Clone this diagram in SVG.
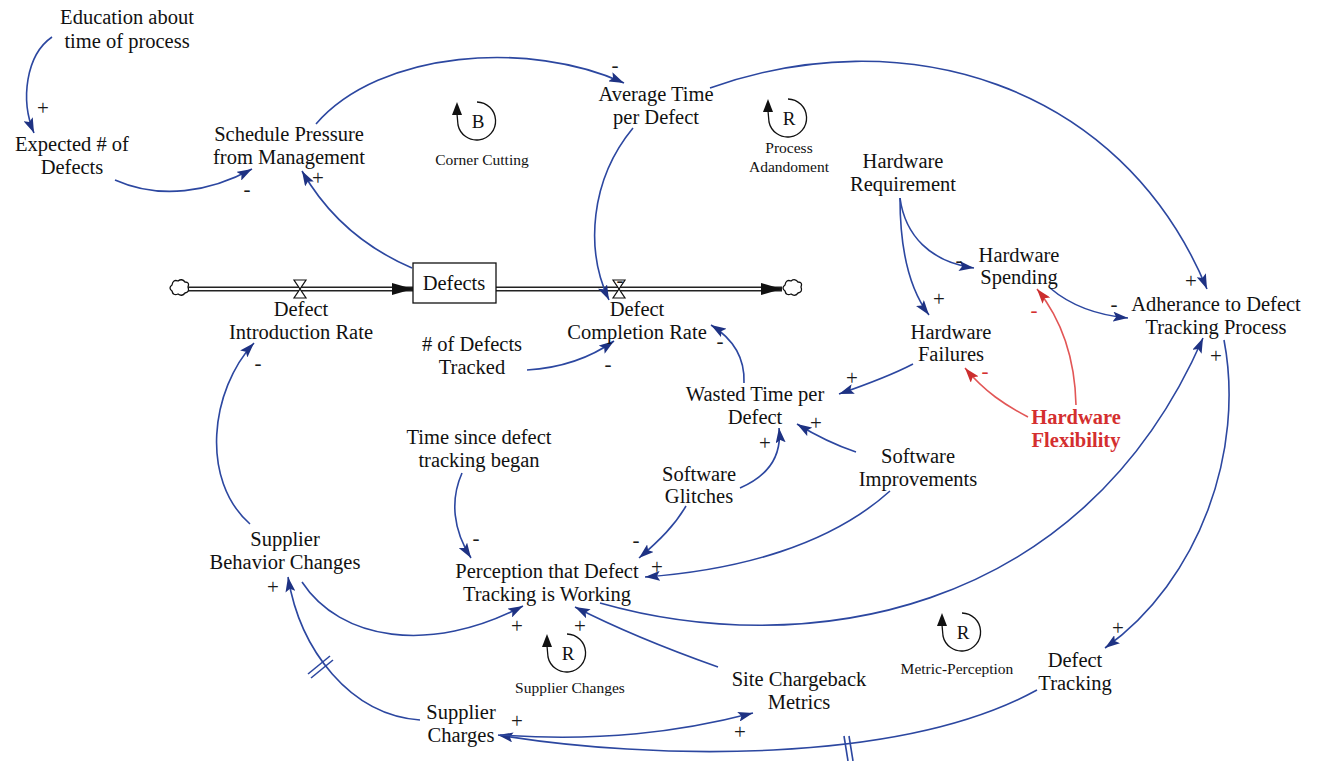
<svg xmlns="http://www.w3.org/2000/svg" width="1317" height="761" viewBox="0 0 1317 761">
<style>
text{font-family:"Liberation Serif","Times New Roman",serif;fill:#111;}
.n{font-size:20.5px;text-anchor:middle;}
.s{font-size:15.5px;text-anchor:middle;}
.p{font-size:21px;text-anchor:middle;fill:#1a1a1a;}
.red{fill:#d42f2f;font-weight:bold;}
.rs{fill:#d42f2f;}
.c{fill:none;stroke:#2c47a0;stroke-width:1.6;marker-end:url(#a);}
.cr{fill:none;stroke:#e25656;stroke-width:1.6;marker-end:url(#ar);}
.loop{fill:none;stroke:#111;stroke-width:1.3;}
.dl{stroke:#2c47a0;stroke-width:1.6;}
</style>
<defs>
<marker id="a" markerUnits="userSpaceOnUse" markerWidth="16" markerHeight="10" refX="15" refY="5" orient="auto"><path d="M0,0 L15,5 L0,10 L3,5 Z" fill="#1e3283"/></marker>
<marker id="ar" markerUnits="userSpaceOnUse" markerWidth="16" markerHeight="10" refX="15" refY="5" orient="auto"><path d="M0,0 L15,5 L0,10 L3,5 Z" fill="#cc2e2e"/></marker>
<marker id="la" markerUnits="userSpaceOnUse" markerWidth="10" markerHeight="13" refX="5" refY="12" orient="0"><path d="M0,13 L5,0 L10,13 Z" fill="#111"/></marker>
</defs>

<g id="flows">
<path d="M186,289 L413,289" stroke="#222" stroke-width="5" fill="none"/>
<path d="M186,289 L400,289" stroke="#fff" stroke-width="2" fill="none"/>
<path d="M392,283 L413,289 L392,295 Z" fill="#111"/>
<path d="M496,289 L782,289" stroke="#222" stroke-width="5" fill="none"/>
<path d="M496,289 L765,289" stroke="#fff" stroke-width="2" fill="none"/>
<path d="M761,283 L782,289 L761,295 Z" fill="#111"/>
<path d="M172,285 q1,-6 6,-4 q4,-3 7,1 q5,0 3,5 q2,5 -3,6 q-3,4 -7,1 q-5,2 -6,-3 q-4,-3 0,-6 Z" fill="#fff" stroke="#111" stroke-width="1.3"/>
<path d="M785,285 q1,-6 6,-4 q4,-3 7,1 q5,0 3,5 q2,5 -3,6 q-3,4 -7,1 q-5,2 -6,-3 q-4,-3 0,-6 Z" fill="#fff" stroke="#111" stroke-width="1.3"/>
<path d="M294,280 L306,280 L294,298 L306,298 Z" fill="#fff" stroke="#111" stroke-width="1.2"/>
<path d="M613,280 L625,280 L613,298 L625,298 Z" fill="#fff" stroke="#111" stroke-width="1.2"/>
</g>

<g id="connectors">
<path class="c" d="M52,37 C26,55 20,100 34,133"/>
<path class="c" d="M115,180 C160,200 210,192 252,169"/>
<path class="c" d="M412,268 C370,250 330,220 302,171"/>
<path class="c" d="M316,124 C380,50 530,40 624,83"/>
<path class="c" d="M710,88 C900,20 1120,80 1207,289"/>
<path class="c" d="M633,128 C590,180 585,250 609,300"/>
<path class="c" d="M900,198 C905,235 930,262 974,268"/>
<path class="c" d="M900,198 C900,250 910,290 929,315"/>
<path class="c" d="M1050,288 C1070,305 1095,315 1128,318"/>
<path class="cr" d="M1076,405 C1075,360 1062,320 1037,289"/>
<path class="cr" d="M1028,417 C1005,405 985,392 965,368"/>
<path class="c" d="M913,364 C890,376 865,385 839,394"/>
<path class="c" d="M744,383 C745,360 735,340 711,325"/>
<path class="c" d="M527,370 C560,368 590,358 614,341"/>
<path class="c" d="M740,488 C770,475 782,455 779,428"/>
<path class="c" d="M856,452 C835,445 815,435 797,424"/>
<path class="c" d="M686,506 C675,525 660,540 639,558"/>
<path class="c" d="M462,473 C450,500 453,530 471,558"/>
<path class="c" d="M890,491 C830,545 740,570 645,577"/>
<path class="c" d="M600,603 C800,660 1080,620 1203,338"/>
<path class="c" d="M1224,340 C1245,450 1200,580 1105,648"/>
<path class="c" d="M1037,690 C900,765 650,760 498,735"/>
<path class="c" d="M500,735 C600,742 680,732 753,713"/>
<path class="c" d="M718,667 C670,650 620,630 575,607"/>
<path class="c" d="M420,720 C350,715 300,650 288,577"/>
<path class="c" d="M302,582 C340,640 430,655 523,606"/>
<path class="c" d="M250,524 C200,480 210,390 254,343"/>
<line class="dl" x1="308" y1="674" x2="330" y2="656"/>
<line class="dl" x1="311" y1="678" x2="333" y2="660"/>
<line class="dl" x1="844" y1="736" x2="848" y2="761"/>
<line class="dl" x1="849" y1="736" x2="853" y2="761"/>
</g>

<g id="polarity">
<text class="p" x="43" y="115">+</text>
<text class="p" x="247" y="196">-</text>
<text class="p" x="318" y="185">+</text>
<text class="p" x="615" y="72">-</text>
<text class="p" x="1191" y="288">+</text>
<text class="p" x="620" y="287">-</text>
<text class="p" x="959" y="267">-</text>
<text class="p" x="939" y="306">+</text>
<text class="p" x="1114" y="311">-</text>
<text class="p rs" x="1034" y="317">-</text>
<text class="p rs" x="985" y="378">-</text>
<text class="p" x="852" y="385">+</text>
<text class="p" x="720" y="348">-</text>
<text class="p" x="608" y="371">-</text>
<text class="p" x="765" y="450">+</text>
<text class="p" x="816" y="430">+</text>
<text class="p" x="636" y="547">-</text>
<text class="p" x="476" y="545">-</text>
<text class="p" x="657" y="574">+</text>
<text class="p" x="1216" y="363">+</text>
<text class="p" x="1118" y="635">+</text>
<text class="p" x="517" y="633">+</text>
<text class="p" x="580" y="633">+</text>
<text class="p" x="740" y="739">+</text>
<text class="p" x="517" y="728">+</text>
<text class="p" x="273" y="594">+</text>
<text class="p" x="258" y="370">-</text>
</g>

<g id="loops">
<g id="loop-b">
<path class="loop" d="M477,102 A19,19 0 1 1 458,125 L457,114" marker-end="url(#la)"/>
<text x="478" y="128" style="font-size:19px;text-anchor:middle">B</text>
<text class="s" x="482" y="165">Corner Cutting</text>
</g>
<g id="loop-r1">
<path class="loop" d="M788,99 A19,19 0 1 1 769,122 L768,111" marker-end="url(#la)"/>
<text x="789" y="125" style="font-size:19px;text-anchor:middle">R</text>
<text class="s" x="789" y="153">Process</text>
<text class="s" x="789" y="172">Adandoment</text>
</g>
<g id="loop-r2">
<path class="loop" d="M567,634 A19,19 0 1 1 548,657 L547,646" marker-end="url(#la)"/>
<text x="568" y="660" style="font-size:19px;text-anchor:middle">R</text>
<text class="s" x="570" y="693">Supplier Changes</text>
</g>
<g id="loop-r3">
<path class="loop" d="M962,613 A19,19 0 1 1 943,636 L942,625" marker-end="url(#la)"/>
<text x="963" y="639" style="font-size:19px;text-anchor:middle">R</text>
<text class="s" x="957" y="674">Metric-Perception</text>
</g>
</g>

<g id="n-education"><text class="n" x="127" y="24">Education about</text><text class="n" x="127" y="48">time of process</text></g>
<g id="n-expected"><text class="n" x="72" y="151">Expected # of</text><text class="n" x="72" y="174">Defects</text></g>
<g id="n-schedule"><text class="n" x="289" y="141">Schedule Pressure</text><text class="n" x="289" y="164">from Management</text></g>
<g id="n-avgtime"><text class="n" x="656" y="101">Average Time</text><text class="n" x="656" y="124">per Defect</text></g>
<g id="n-hwreq"><text class="n" x="903" y="168">Hardware</text><text class="n" x="903" y="191">Requirement</text></g>
<g id="n-hwspend"><text class="n" x="1019" y="262">Hardware</text><text class="n" x="1019" y="284">Spending</text></g>
<g id="n-adherance"><text class="n" x="1216" y="311">Adherance to Defect</text><text class="n" x="1216" y="334">Tracking Process</text></g>
<g id="n-hwfail"><text class="n" x="951" y="339">Hardware</text><text class="n" x="951" y="361">Failures</text></g>
<g id="n-hwflex"><text class="n red" x="1076" y="424">Hardware</text><text class="n red" x="1076" y="447">Flexibility</text></g>
<g id="n-defects"><rect x="413" y="263" width="83" height="40" fill="#fff" stroke="#111" stroke-width="1.3"/><text class="n" x="454" y="290">Defects</text></g>
<g id="n-intro"><text class="n" x="301" y="316">Defect</text><text class="n" x="301" y="339">Introduction Rate</text></g>
<g id="n-completion"><text class="n" x="637" y="316">Defect</text><text class="n" x="637" y="339">Completion Rate</text></g>
<g id="n-tracked"><text class="n" x="472" y="351"># of Defects</text><text class="n" x="472" y="374">Tracked</text></g>
<g id="n-wasted"><text class="n" x="755" y="401">Wasted Time per</text><text class="n" x="755" y="424">Defect</text></g>
<g id="n-timesince"><text class="n" x="479" y="444">Time since defect</text><text class="n" x="479" y="467">tracking began</text></g>
<g id="n-glitches"><text class="n" x="699" y="481">Software</text><text class="n" x="699" y="503">Glitches</text></g>
<g id="n-improvements"><text class="n" x="918" y="463">Software</text><text class="n" x="918" y="486">Improvements</text></g>
<g id="n-supbehavior"><text class="n" x="285" y="546">Supplier</text><text class="n" x="285" y="569">Behavior Changes</text></g>
<g id="n-perception"><text class="n" x="547" y="578">Perception that Defect</text><text class="n" x="547" y="601">Tracking is Working</text></g>
<g id="n-chargeback"><text class="n" x="799" y="686">Site Chargeback</text><text class="n" x="799" y="709">Metrics</text></g>
<g id="n-defecttracking"><text class="n" x="1075" y="667">Defect</text><text class="n" x="1075" y="690">Tracking</text></g>
<g id="n-supcharges"><text class="n" x="461" y="719">Supplier</text><text class="n" x="461" y="742">Charges</text></g>
</svg>
